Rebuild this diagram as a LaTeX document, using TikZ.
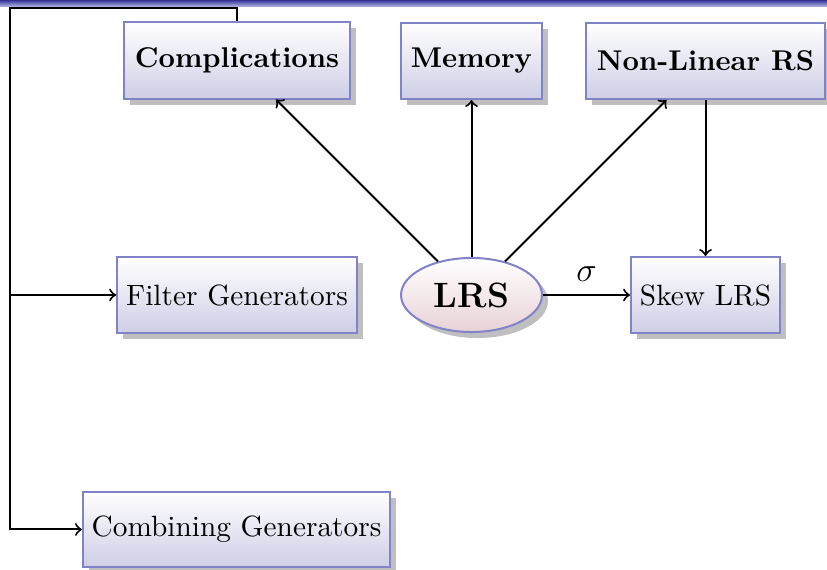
\documentclass[tikz,border=0pt]{standalone}
\usetikzlibrary{shadows,shapes.geometric,arrows}
\definecolor{bcol}{RGB}{130,130,200}
\definecolor{bfill}{RGB}{206,206,230}
\definecolor{efill}{RGB}{232,210,214}
\definecolor{bartop}{RGB}{50,50,150}
\definecolor{barbot}{RGB}{190,190,235}
\tikzset{
  mybox/.style={draw=bcol, line width=0.7pt, top color=white, bottom color=bfill,
    minimum height=26.6pt, inner xsep=2pt, inner ysep=2pt,
    drop shadow={shadow xshift=2.1pt, shadow yshift=-2.1pt, fill=black!25, opacity=1}},
  plainbox/.style={mybox, font=\fontsize{10.25}{12}\selectfont},
  boldbox/.style={mybox, font=\bfseries},
  myell/.style={ellipse, draw=bcol, line width=0.7pt, top color=white, bottom color=efill,
    minimum width=49.3pt, minimum height=25.9pt, inner sep=0pt,
    drop shadow={shadow xshift=2.1pt, shadow yshift=-2.1pt, fill=black!25, opacity=1}},
  conn/.style={->, line width=0.7pt, black}
}
\begin{document}
\begin{tikzpicture}[x=0.3497pt, y=-0.3497pt]
\useasboundingbox (0,0) rectangle (827,570);
\shade[top color=bartop, bottom color=barbot] (0,0) rectangle (827,7);
\node[boldbox, minimum width=79pt] (comp) at (237,60.5) {Complications};
\node[boldbox, minimum width=49.3pt] (mem) at (471.5,61) {Memory};
\node[boldbox, minimum width=83.6pt] (nlrs) at (705.5,61) {Non-Linear RS};
\node[plainbox, minimum width=83.9pt] (filt) at (237,295) {Filter Generators};
\node[myell] (lrs) at (471.5,295) {\fontsize{12.3}{14}\selectfont\bfseries LRS};
\node[plainbox, minimum width=52.1pt] (skew) at (705.5,295) {Skew LRS};
\node[plainbox, minimum width=107.4pt, minimum height=26.2pt] (comb) at (236.5,529.5) {Combining Generators};
\coordinate (corner) at (10,8);
\draw[conn] (lrs) -- (comp);
\draw[conn] (lrs) -- (mem);
\draw[conn] (lrs) -- (nlrs);
\draw[conn] (nlrs) -- (skew);
\draw[conn] (lrs) -- node[above, inner sep=4.5pt] {\large$\sigma$} (skew);
\draw[conn] (comp.north) |- (corner) |- (comb.west);
\draw[conn] (corner) |- (filt.west);
\end{tikzpicture}
\end{document}
